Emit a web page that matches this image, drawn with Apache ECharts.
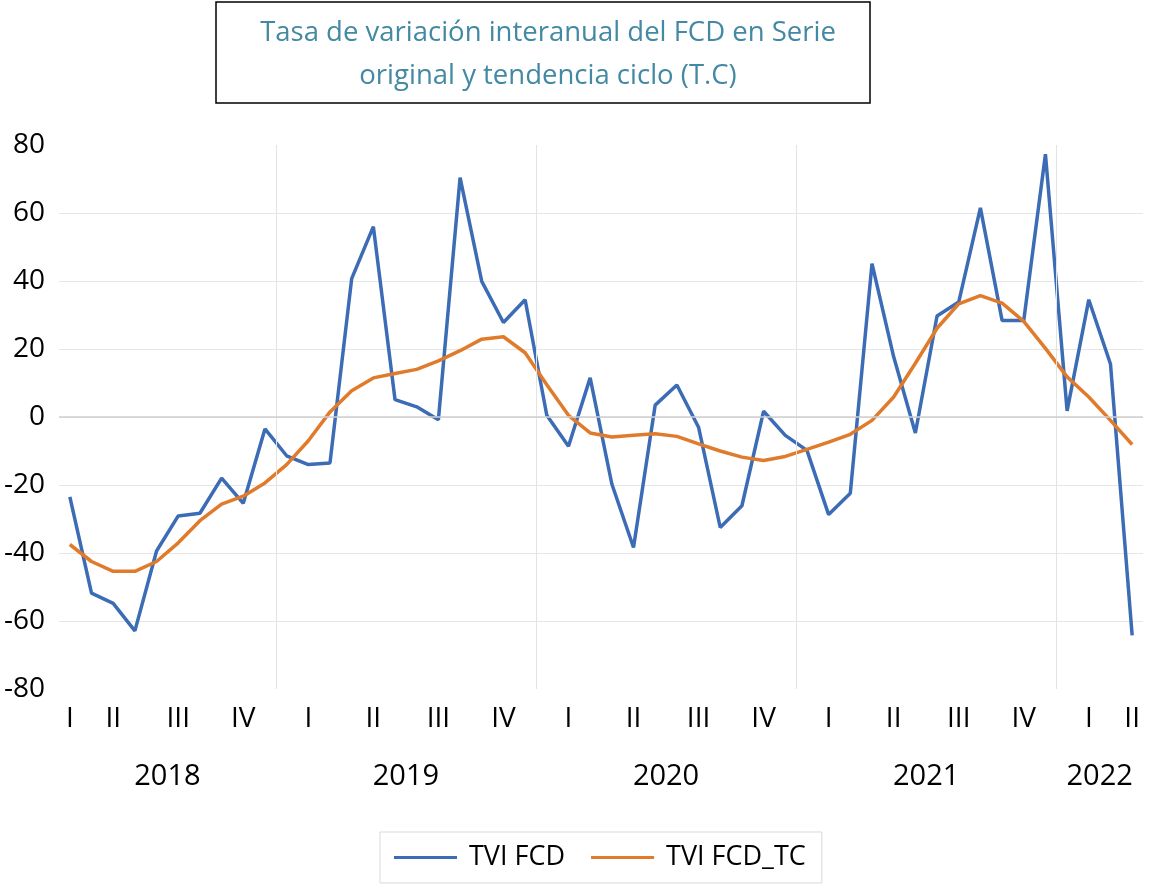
<!DOCTYPE html>
<html><head><meta charset="utf-8">
<script src="https://cdn.jsdelivr.net/npm/echarts@6/dist/echarts.min.js"></script>
<style>html,body{margin:0;padding:0;background:#fff}#c{width:1151px;height:888px}</style>
</head><body><div id="c"></div>
<script>
const months = [
 '2018-03','2018-04','2018-05','2018-06','2018-07','2018-08','2018-09','2018-10','2018-11','2018-12',
 '2019-01','2019-02','2019-03','2019-04','2019-05','2019-06','2019-07','2019-08','2019-09','2019-10','2019-11','2019-12',
 '2020-01','2020-02','2020-03','2020-04','2020-05','2020-06','2020-07','2020-08','2020-09','2020-10','2020-11','2020-12',
 '2021-01','2021-02','2021-03','2021-04','2021-05','2021-06','2021-07','2021-08','2021-09','2021-10','2021-11','2021-12',
 '2022-01','2022-02','2022-03','2022-04'
];
const quarterNames = ['I','II','III','IV'];
const yTicks = [-80,-60,-40,-20,0,20,40,60,80];
const tviFCD = [-23.5,-51.8,-54.8,-62.9,-39.4,-29.1,-28.3,-18,-25.4,-3.5,
 -11.4,-14,-13.5,40.7,56,5.1,3,-0.8,70.4,39.9,
 27.8,34.5,0.5,-8.6,11.5,-19.7,-38.4,3.5,9.4,-3,
 -32.5,-26.1,1.7,-5.4,-9.8,-28.7,-22.4,45.1,17.7,-4.7,
 29.7,33.8,61.5,28.4,28.4,77.3,1.8,34.5,15.6,-64.2];
const tviFCD_TC = [-37.5,-42.5,-45.4,-45.4,-42.5,-37,-30.5,-25.6,-23.3,-19.4,
 -14,-7,1.5,7.7,11.5,12.8,14,16.5,19.5,22.9,
 23.6,18.9,9.5,0.5,-4.7,-5.9,-5.4,-4.9,-5.7,-7.9,
 -10,-11.8,-12.8,-11.6,-9.5,-7.4,-5.1,-1,5.9,15.8,
 26.1,33.3,35.7,33.5,28.1,20.2,11.8,5.9,-1,-8.1];
const seriesNames = ['TVI FCD','TVI FCD_TC'];
const titleText = 'Tasa de variación interanual del FCD en Serie\noriginal y tendencia ciclo (T.C)';

function groups(keyFn){
  const out=[];
  months.forEach((m,i)=>{const k=keyFn(m);const last=out[out.length-1];
    if(last&&last.key===k){last.end=i;}else out.push({key:k,start:i,end:i});});
  return out;
}
const qGroups = groups(m => m.slice(0,4)+'Q'+Math.ceil(+m.slice(5)/3));
const yGroups = groups(m => m.slice(0,4));
const qPos = qGroups.map(g => (g.start+g.end+1)/2);
const qLab = qGroups.map(g => quarterNames[+g.key.slice(-1)-1]);
const yPos = yGroups.map(g => (g.start+g.end+1)/2);
const yLab = yGroups.map(g => g.key);
const yearBounds = yGroups.slice(1).map(g => g.start);
function lookup(pos, lab, v){let b=0;pos.forEach((p,i)=>{if(Math.abs(p-v)<Math.abs(pos[b]-v))b=i;});return lab[b];}

const FONT = 'Open Sans';
const chart = echarts.init(document.getElementById('c'));
chart.setOption({
  animation:false,
  backgroundColor:'#fff',
  textStyle:{fontFamily:FONT},
  title:{text:titleText,left:543,top:7,textAlign:'center',
    textStyle:{fontFamily:FONT,fontSize:27.5,fontWeight:'normal',color:'#4389a3',lineHeight:43}},
  graphic:[{type:'rect',shape:{x:216,y:2,width:654,height:101},style:{fill:'none',stroke:'#000',lineWidth:1.5},silent:true}],
  legend:{data:seriesNames,left:380,top:832,padding:[12,16,12,14],itemGap:26,
    borderColor:'#d9d9d9',borderWidth:1,icon:'rect',itemWidth:63,itemHeight:3,
    textStyle:{fontFamily:FONT,fontSize:27,color:'#000',padding:[0,0,0,7]}},
  grid:{left:59,right:8,top:145,bottom:199,containLabel:false},
  xAxis:[
    {type:'value',min:0,max:months.length,position:'bottom',
     axisLine:{show:false},axisTick:{show:false},splitLine:{show:false},
     axisLabel:{customValues:qPos,margin:16,fontSize:28,color:'#000',fontFamily:FONT,
       formatter:v=>lookup(qPos,qLab,v)}},
    {type:'value',min:0,max:months.length,position:'bottom',offset:58,
     axisLine:{show:false},axisTick:{show:false},splitLine:{show:false},
     axisLabel:{customValues:yPos,margin:15,fontSize:29,color:'#000',fontFamily:FONT,
       formatter:v=>lookup(yPos,yLab,v)}}
  ],
  yAxis:{type:'value',min:yTicks[0],max:yTicks[yTicks.length-1],interval:20,
    axisLine:{show:false},axisTick:{show:false},
    axisLabel:{fontSize:28,color:'#000',margin:14,fontFamily:FONT},
    splitLine:{show:true,showMinLine:false,showMaxLine:false,lineStyle:{color:'#e6e6e6',width:1}}},
  series:[
    {name:'grid-extra',type:'line',data:[],z:1,silent:true,
     markLine:{silent:true,symbol:'none',label:{show:false},animation:false,
       data:[...yearBounds.map(b=>({xAxis:b,lineStyle:{color:'#e3e3e3',width:1,type:'solid'}})),
             {yAxis:0,lineStyle:{color:'#cfcfcf',width:1.5,type:'solid'}}]}},
    {name:seriesNames[0],type:'line',data:tviFCD.map((v,i)=>[i+0.5,v]),showSymbol:false,
     lineStyle:{color:'#3c6cb5',width:3.5},itemStyle:{color:'#3c6cb5'},z:3},
    {name:seriesNames[1],type:'line',data:tviFCD_TC.map((v,i)=>[i+0.5,v]),showSymbol:false,
     lineStyle:{color:'#e07b2c',width:3.5},itemStyle:{color:'#e07b2c'},z:4}
  ]
});
</script></body></html>
